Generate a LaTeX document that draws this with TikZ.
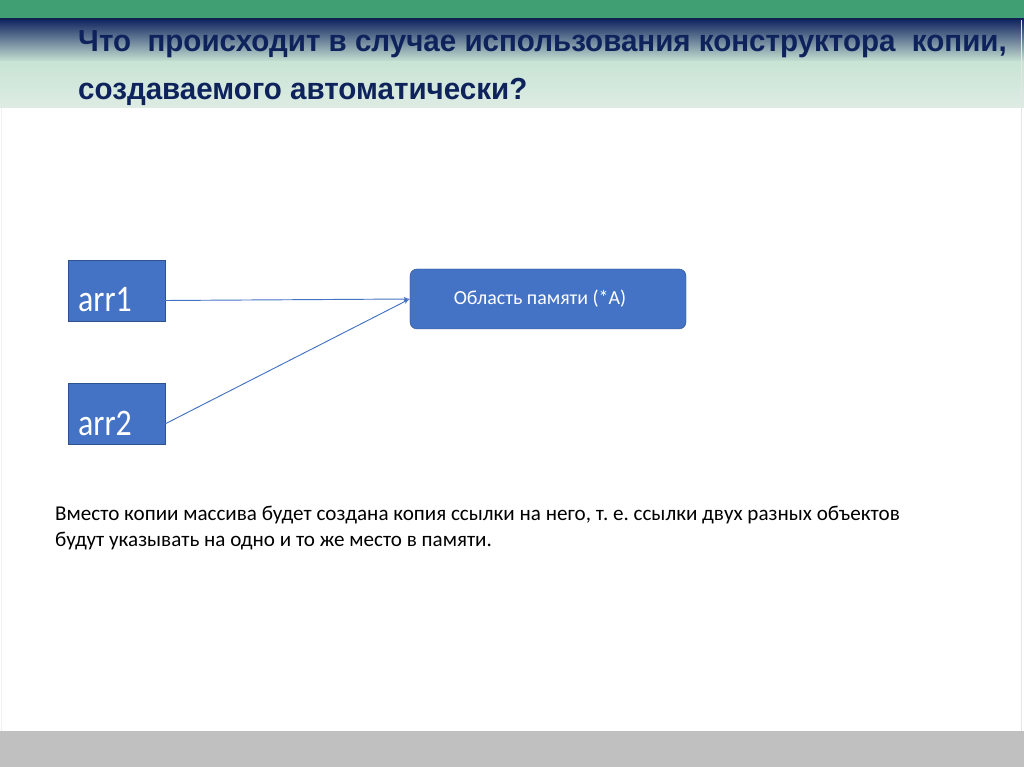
\documentclass[tikz,border=0pt]{standalone}
\usepackage{fontspec}
\setmainfont{Carlito}
\newfontfamily\titlefont{Liberation Sans Bold}[FakeStretch=0.97]
\newfontfamily\arrfont{Carlito}[FakeStretch=0.85]
\usepackage{tikz}
\usetikzlibrary{calc}
\usetikzlibrary{shapes,arrows}
\frenchspacing
\definecolor{bandgreen}{RGB}{64,160,116}
\definecolor{navy}{RGB}{22,42,100}
\definecolor{palegreen}{RGB}{200,228,212}
\definecolor{paler}{RGB}{222,236,228}
\definecolor{titleblue}{RGB}{14,34,92}
\definecolor{boxblue}{RGB}{68,114,196}
\definecolor{boxedge}{RGB}{47,82,143}
\definecolor{footgray}{RGB}{192,192,192}
\tikzstyle{arrbox} = [rectangle, draw=boxedge, fill=boxblue, minimum width=2.91cm, minimum height=1.83cm, text=white, font=\arrfont\fontsize{32}{36}\selectfont, text width=2.3cm, text height=36.7pt, text depth=0pt, inner sep=0pt, align=left]
\tikzstyle{memblock} = [rectangle, draw=boxedge, fill=boxblue, rounded corners=6pt, minimum width=8.28cm, minimum height=1.8cm, text=white, font=\fontsize{17}{20}\selectfont]
\tikzstyle{heading} = [anchor=base west, text=titleblue, font=\titlefont\fontsize{26}{30}\selectfont, inner sep=0pt]
\tikzstyle{line} = [draw=boxblue, -latex', line width=0.8pt]

\begin{document}
\begin{tikzpicture}[x=0.03cm, y=-0.03cm, node distance = 3.7cm]
    % frame
    \useasboundingbox (0,0) rectangle (1024,767);
    \fill[white] (0,0) rectangle (1024,767);
    \fill[bandgreen] (0,0) rectangle (1024,18);
    \fill[navy!80!black] (0,18) rectangle (1024,20.5);
    \shade[top color=navy, bottom color=palegreen] (0,20.5) rectangle (1024,62);
    \shade[top color=palegreen, bottom color=paler] (0,62) rectangle (1024,108);
    \fill[footgray] (0,731) rectangle (1024,767);
    \draw[black!10] (1021.5,20) -- (1021.5,731);
    \draw[black!6] (1.5,108) -- (1.5,731);
    % title
    \node [heading] (title1) at (78,52) {Что \ происходит в случае использования конструктора \ копии,};
    \node [heading] (title2) at (78,100) {создаваемого автоматически?};
    % boxes
    \node [arrbox] (arr1) at (116.5,290.5) {arr1};
    \node [arrbox, below of=arr1, node distance=3.7cm] (arr2) {arr2};
    \node [memblock] (mem) at (548,299) {\hspace*{-0.48cm}Область памяти (*А)};
    \path [line] ([yshift=-0.3cm]arr1.east) -- (mem.west);
    \path [line] ([yshift=-0.3cm]arr2.east) -- (mem.west);
    % note
    \node [anchor=base west, inner sep=0pt, align=left, font=\fontsize{18}{23}\selectfont] (note) at (55,547) {Вместо копии массива будет создана копия ссылки на него, т. е. ссылки двух разных объектов\\будут указывать на одно и то же место в памяти.};
\end{tikzpicture}
\end{document}
